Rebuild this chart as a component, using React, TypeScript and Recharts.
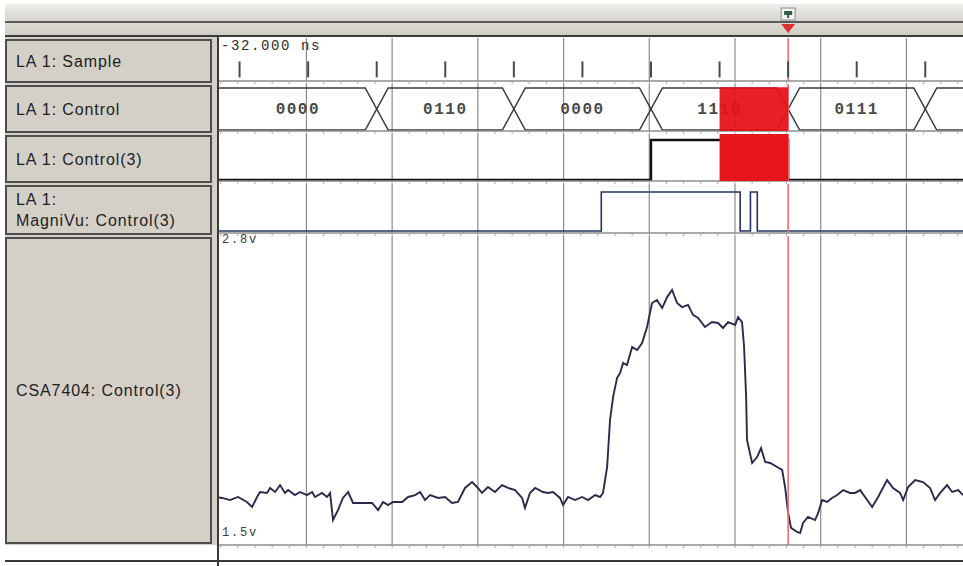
import React from "react";
import {
  ComposedChart,
  Line,
  Scatter,
  XAxis,
  YAxis,
  ReferenceLine,
  ReferenceArea,
} from "recharts";

// time window shown, in ns
const T_MIN = -32;
const T_MAX = 11.4;

const rowLabels = [
  ["LA 1: Sample"],
  ["LA 1: Control"],
  ["LA 1: Control(3)"],
  ["LA 1:", "MagniVu: Control(3)"],
  ["CSA7404: Control(3)"],
];

const gridTimes = [-26.9, -21.9, -16.9, -11.9, -6.9, -1.9, 3.1, 8.1];
const sampleTimes = [-30.8, -26.8, -22.8, -18.8, -14.8, -10.8, -6.8, -2.8, 1.2, 5.2, 9.2];

const busEdges = [-22.8, -14.8, -6.8, 1.2, 9.2];
const busValues = ["0000", "0110", "0000", "1110", "0111", ""];

const ctrl3Times = [-32, -6.8, 1.2, 11.4];
const ctrl3Levels = [0, 1, 0, 0];

const magniTimes = [-32, -9.7, -1.6, -1.0, -0.6, 11.4];
const magniLevels = [0, 1, 0, 1, 0, 0];

const analogTimes = [
  -32, -31.82, -31.36, -30.89, -30.37, -30.07, -29.78, -29.61, -29.2, -29.02, -28.73, -28.44, -28.15,
  -27.97, -27.57, -27.27, -26.87, -26.57, -26.4, -25.99, -25.7, -25.52, -25.35, -25.06, -24.77, -24.47,
  -24.18, -23.66, -23.07, -22.72, -22.43, -22.14, -21.85, -21.32, -20.97, -20.56, -20.27, -19.98,
  -19.69, -19.22, -18.81, -18.41, -18.06, -17.65, -17.24, -16.95, -16.66, -16.31, -15.9, -15.49,
  -15.14, -14.73, -14.32, -14.15, -13.86, -13.56, -13.1, -12.81, -12.51, -12.11, -11.93, -11.64,
  -11.23, -10.82, -10.47, -10.06, -9.77, -9.6, -9.36, -9.19, -9.01, -8.78, -8.6, -8.43, -8.2, -7.9,
  -7.61, -7.32, -7.03, -6.74, -6.45, -6.15, -5.86, -5.57, -5.28, -4.99, -4.64, -4.35, -4.05, -3.65,
  -3.24, -2.89, -2.6, -2.3, -1.89, -1.72, -1.49, -1.37, -1.25, -1.2, -0.9, -0.61, -0.38, -0.14, 0.15,
  0.56, 0.85, 1.02, 1.2, 1.37, 1.72, 1.9, 2.07, 2.36, 2.77, 2.95, 3.18, 3.47, 3.76, 4.06, 4.41, 4.81,
  5.11, 5.4, 5.81, 6.1, 6.45, 6.97, 7.32, 7.73, 7.91, 8.2, 8.61, 9.07, 9.48, 9.77, 10.07, 10.47, 10.77,
  11.12, 11.4,
];
const analogVolts = [
  1.700, 1.698, 1.689, 1.702, 1.681, 1.660, 1.702, 1.723, 1.719, 1.740, 1.723, 1.752, 1.719,
  1.731, 1.710, 1.723, 1.710, 1.723, 1.702, 1.719, 1.702, 1.719, 1.605, 1.647, 1.698, 1.723,
  1.677, 1.677, 1.677, 1.647, 1.681, 1.668, 1.681, 1.681, 1.702, 1.710, 1.723, 1.689,
  1.710, 1.698, 1.702, 1.677, 1.681, 1.740, 1.765, 1.744, 1.719, 1.744, 1.723, 1.752,
  1.740, 1.731, 1.698, 1.656, 1.719, 1.740, 1.723, 1.719, 1.723, 1.698, 1.668, 1.702,
  1.689, 1.702, 1.689, 1.710, 1.702, 1.719, 1.828, 2.026, 2.123, 2.203, 2.224, 2.266, 2.257, 2.333,
  2.320, 2.350, 2.417, 2.518, 2.531, 2.497, 2.543, 2.573, 2.518, 2.501, 2.510, 2.468, 2.455, 2.417,
  2.438, 2.434, 2.413, 2.438, 2.426, 2.459, 2.438, 2.333, 2.123, 1.942, 1.845, 1.870, 1.908, 1.849, 1.845,
  1.828, 1.816, 1.744, 1.635, 1.572, 1.555, 1.550, 1.593, 1.618, 1.605, 1.635, 1.689, 1.681, 1.698, 1.710, 1.731, 1.719,
  1.719, 1.731, 1.689, 1.660, 1.702, 1.773, 1.740, 1.719, 1.689, 1.744, 1.773, 1.765, 1.740, 1.689, 1.719, 1.752, 1.723,
  1.731, 1.710,
];

const cursorTime = 1.2;
const highlight = [-2.8, 1.2];
const voltRange = [1.5, 2.8];

// layout
const PLOT_LEFT = 219;
const PLOT_W = 744;
const rowBounds = [38, 84, 134, 184, 236, 548];
const PANEL_BG = "#d4d0c8";

const minorTicks = Array.from({ length: 44 }, (_, i) => -31.9 + i);

const busHalf = 0.67;
const busPoints = (() => {
  const pts = [{ t: T_MIN, a: 1, b: 0 }];
  let hi = 1;
  busEdges.forEach((e) => {
    pts.push({ t: e - busHalf, a: hi, b: 1 - hi });
    hi = 1 - hi;
    pts.push({ t: e + busHalf, a: hi, b: 1 - hi });
  });
  pts.push({ t: T_MAX, a: hi, b: 1 - hi });
  return pts;
})();
const busBounds = [T_MIN, ...busEdges, T_MAX];
const busLabels = busValues
  .map((label, i) => ({ t: (busBounds[i] + busBounds[i + 1]) / 2, y: 0.5, label }))
  .filter((d) => d.label);

const sampleData = sampleTimes.map((t) => ({ t, y: 0.27 }));
const ctrl3Data = ctrl3Times.map((t, i) => ({ t, v: ctrl3Levels[i] }));
const magniData = magniTimes.map((t, i) => ({ t, v: magniLevels[i] }));
const analogData = analogTimes.map((t, i) => ({ t, v: analogVolts[i] }));
const triggerData = [{ t: cursorTime, y: 0.5 }];

const onTop = { zIndex: 1000 } as any;

const noTick = () => <g />;

const SampleMark = (p: any) => (
  <line x1={p.cx} x2={p.cx} y1={p.cy - 8} y2={p.cy + 8} stroke="#4a4a4a" strokeWidth={2} />
);

const BusText = (p: any) => (
  <text
    x={p.cx}
    y={p.cy}
    dy={5}
    textAnchor="middle"
    fontFamily="'Liberation Mono', monospace"
    fontSize={16}
    fontWeight="bold"
    letterSpacing={1.5}
    fill="#4a4a4a"
  >
    {p.payload.label}
  </text>
);

const TriggerMark = (p: any) => {
  const { cx, cy } = p;
  return (
    <g>
      <rect x={cx - 7} y={cy - 13} width={14} height={12} fill="#f2f2f2" stroke="#8a8a8a" />
      <rect x={cx - 4} y={cy - 10} width={8} height={4} fill="#3a5a4a" />
      <rect x={cx - 1} y={cy - 6} width={2} height={3} fill="#3a5a4a" />
      <path d={`M${cx - 7},${cy + 3}L${cx + 7},${cy + 3}L${cx},${cy + 12}Z`} fill="#e03030" />
    </g>
  );
};

function Row({
  top,
  height,
  domain,
  children,
}: {
  top: number;
  height: number;
  domain: number[];
  children?: React.ReactNode;
}) {
  return (
    <div style={{ position: "absolute", left: PLOT_LEFT, top, width: PLOT_W, height }}>
      <ComposedChart width={PLOT_W} height={height} margin={{ top: 0, right: 0, bottom: 0, left: 0 }}>
        <XAxis
          type="number"
          dataKey="t"
          domain={[T_MIN, T_MAX]}
          allowDataOverflow
          ticks={minorTicks}
          interval={0}
          height={3}
          tickSize={3}
          tick={noTick}
          axisLine={{ stroke: "#8c8c8c", strokeWidth: 1.5 }}
          tickLine={{ stroke: "#a8a8a8" }}
        />
        <YAxis type="number" domain={domain} hide allowDataOverflow />
        {gridTimes.map((t) => (
          <ReferenceLine key={t} x={t} stroke="#8a8a8a" strokeWidth={1.2} />
        ))}
        {children}
        <ReferenceLine x={cursorTime} stroke="#e87070" strokeWidth={1.6} />
      </ComposedChart>
    </div>
  );
}

export default function App() {
  const rh = (i: number) => rowBounds[i + 1] - rowBounds[i];
  return (
    <div
      style={{
        position: "absolute",
        left: 0,
        top: 0,
        width: 963,
        height: 566,
        background: "#ffffff",
        overflow: "hidden",
        fontFamily: "'Liberation Sans', Arial, sans-serif",
      }}
    >
      {/* toolbar strip */}
      <div style={{ position: "absolute", left: 5, top: 4, width: 958, height: 17, background: "linear-gradient(#eeede8, #d6d4cc)" }} />
      <div style={{ position: "absolute", left: 5, top: 21, width: 958, height: 2, background: "#5a5a5a" }} />
      <div style={{ position: "absolute", left: 5, top: 23, width: 958, height: 12, background: "linear-gradient(#dcdad2, #cfcdc5)" }} />
      <div style={{ position: "absolute", left: 5, top: 35, width: 958, height: 2, background: "#3c3c3c" }} />
      <div style={{ position: "absolute", left: PLOT_LEFT, top: 4, width: PLOT_W, height: 34 }}>
        <ComposedChart width={PLOT_W} height={34} margin={{ top: 0, right: 0, bottom: 0, left: 0 }}>
          <XAxis type="number" dataKey="t" domain={[T_MIN, T_MAX]} hide allowDataOverflow />
          <YAxis type="number" domain={[0, 1]} hide />
          <Scatter data={triggerData} dataKey="y" shape={TriggerMark} isAnimationActive={false} />
        </ComposedChart>
      </div>

      {/* label panel */}
      <div style={{ position: "absolute", left: 5, top: 37, width: 214, height: 508, background: PANEL_BG }} />
      {rowLabels.map((lines, i) => (
        <div
          key={i}
          style={{
            position: "absolute",
            left: 5,
            top: rowBounds[i] + 1,
            width: 207,
            height: (i === 4 ? 545 : rowBounds[i + 1]) - rowBounds[i] - 2,
            boxSizing: "border-box",
            border: "2px solid #4e4e4e",
            background: PANEL_BG,
            display: "flex",
            flexDirection: "column",
            justifyContent: "center",
            paddingLeft: 9,
            fontSize: 16,
            letterSpacing: 0.9,
            lineHeight: "21px",
            color: "#1e1e1e",
          }}
        >
          {lines.map((l) => (
            <div key={l} style={{ whiteSpace: "nowrap" }}>
              {l}
            </div>
          ))}
        </div>
      ))}
      <div style={{ position: "absolute", left: 217, top: 37, width: 2, height: 529, background: "#3a3a3a" }} />
      <div style={{ position: "absolute", left: 5, top: 560, width: 958, height: 2, background: "#3a3a3a" }} />

      {/* sample clock */}
      <Row top={rowBounds[0]} height={rh(0)} domain={[0, 1]}>
        <Scatter data={sampleData} dataKey="y" shape={SampleMark} isAnimationActive={false} />
      </Row>

      {/* Control bus */}
      <Row top={rowBounds[1]} height={rh(1)} domain={[-0.024, 1.095]}>
        <Line data={busPoints} dataKey="a" type="linear" stroke="#3a3a3a" strokeWidth={1.5} dot={false} activeDot={false} isAnimationActive={false} />
        <Line data={busPoints} dataKey="b" type="linear" stroke="#3a3a3a" strokeWidth={1.5} dot={false} activeDot={false} isAnimationActive={false} />
        <Scatter data={busLabels} dataKey="y" shape={BusText} isAnimationActive={false} />
        <ReferenceArea {...onTop} x1={highlight[0]} x2={highlight[1]} y1={-0.024} y2={1.02} fill="#e6121a" fillOpacity={0.94} stroke="none" />
      </Row>

      {/* Control(3) */}
      <Row top={rowBounds[2]} height={rh(2)} domain={[-0.025, 1.15]}>
        <Line data={ctrl3Data} dataKey="v" type="stepAfter" stroke="#111" strokeWidth={2.4} dot={false} activeDot={false} isAnimationActive={false} />
        <ReferenceArea {...onTop} x1={highlight[0]} x2={highlight[1]} fill="#e8161c" fillOpacity={1} stroke="none" />
      </Row>

      {/* MagniVu Control(3) */}
      <Row top={rowBounds[3]} height={rh(3)} domain={[-0.05, 1.205]}>
        <Line data={magniData} dataKey="v" type="stepAfter" stroke="#243463" strokeWidth={1.6} dot={false} activeDot={false} isAnimationActive={false} />
      </Row>

      {/* analog probe */}
      <Row top={rowBounds[4]} height={rh(4)} domain={voltRange}>
        <Line data={analogData} dataKey="v" type="linear" stroke="#2a2a4c" strokeWidth={1.9} dot={false} activeDot={false} isAnimationActive={false} />
      </Row>

      <div style={{ position: "absolute", left: 221, top: 38, fontFamily: "'Liberation Mono', monospace", fontSize: 14, letterSpacing: 1.6, color: "#2e2e2e" }}>
        -32.000 ns
      </div>
      <div style={{ position: "absolute", left: 222, top: 233, fontFamily: "'Liberation Mono', monospace", fontSize: 12, letterSpacing: 1.8, color: "#3a3a3a" }}>
        2.8v
      </div>
      <div style={{ position: "absolute", left: 222, top: 526, fontFamily: "'Liberation Mono', monospace", fontSize: 12, letterSpacing: 1.8, color: "#3a3a3a" }}>
        1.5v
      </div>
    </div>
  );
}
